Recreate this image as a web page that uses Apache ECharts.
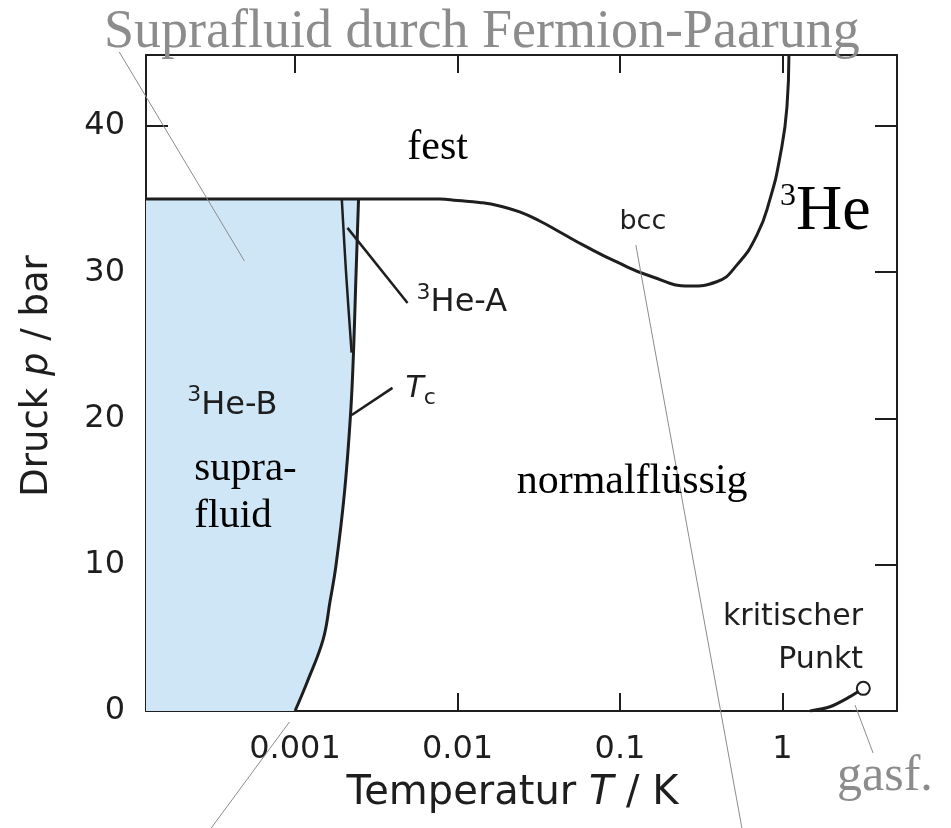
<!DOCTYPE html>
<html>
<head>
<meta charset="utf-8">
<title>3He Phasendiagramm</title>
<script src="https://cdn.jsdelivr.net/npm/echarts@6/dist/echarts.min.js"></script>
<style>
  html, body { margin: 0; padding: 0; background: #fff; }
  #chart { width: 951px; height: 828px; }
</style>
</head>
<body>
<div id="chart"></div>
<script>
// axis ranges: T in K (log), p in bar
const tMin = 1.21e-4, tMax = 5.07;
const pMin = 0, pMax = 44.85;

// melting curve (fest / flüssig)
const meltT = [1.21e-4, 0.001, 0.00776, 0.0100, 0.01367, 0.01817, 0.02413, 0.03206, 0.04256, 0.0607, 0.0955, 0.153, 0.269, 0.394, 0.525, 0.697, 0.838, 0.966, 1.066, 1.096];
const meltP = [35.0, 35.0, 35.0, 34.9, 34.77, 34.53, 34.12, 33.5, 32.75, 31.8, 30.7, 29.74, 29.06, 29.35, 30.5, 32.55, 35.0, 37.9, 41.3, 44.85];

// superfluid transition Tc(p)
const tcT = [0.001, 0.00119, 0.00149, 0.001643, 0.001789, 0.002018, 0.0022, 0.00229, 0.00236, 0.00246];
const tcP = [0, 2, 4.9, 7.5, 10, 15, 20.4, 24.5, 29, 35];

// A-B transition
const abT = [0.00223, 0.00206, 0.00194];
const abP = [24.5, 30, 35];

// liquid-gas line up to the critical point
const critT = [1.477, 1.963, 2.606, 3.146];
const critP = [0, 0.29, 0.98, 1.55];

// black pointer lines for 3He-A and Tc labels
const ptrT = [[0.002103, 0.004927], [0.002235, 0.00398]];
const ptrP = [[33.03, 27.9], [20.24, 22.09]];

// thin grey leader lines (some run past the frame)
const leadT = [[8.28e-5, 4.88e-4], [9.24e-4, 3.05e-4], [0.1252, 0.5628], [2.797, 3.611]];
const leadP = [[45.06, 30.77], [-0.75, -8.0], [31.86, -8.0], [0.41, -2.87]];

// text notes: [T, p, key]
const notes = [
  [0.00754, 38.5, 'fest'],
  [0.965, 34.09, 'he3'],
  [0.1382, 33.44, 'bcc'],
  [0.0056, 27.9, 'heA'],
  [0.004786, 22.02, 'tc'],
  [2.173e-4, 20.89, 'heB'],
  [2.399e-4, 14.91, 'supra'],
  [0.02312, 15.69, 'normal'],
  [3.133, 4.96, 'krit'],
  [2.167, -4.48, 'gasf']
];

const sans = 'DejaVu Sans';
const serif = 'Liberation Serif';
const ink = '#1e1e1e';
const grey = '#8c8c8c';

function pairs(ts, ps) {
  return ts.map((t, i) => [t, ps[i]]);
}

const supStyle = { fontFamily: sans, fontSize: 22, lineHeight: 22, verticalAlign: 'top', color: ink };
const heStyle = { fontFamily: sans, fontSize: 32, lineHeight: 42, color: ink };

const noteLabel = {
  fest: { formatter: 'fest', fontFamily: serif, fontSize: 42, color: '#000', align: 'center' },
  he3: {
    formatter: '{s|3}{m|He}', align: 'left',
    rich: {
      s: { fontFamily: serif, fontSize: 32, lineHeight: 32, verticalAlign: 'top', color: '#000' },
      m: { fontFamily: serif, fontSize: 64, lineHeight: 64, color: '#000' }
    }
  },
  bcc: { formatter: 'bcc', fontFamily: sans, fontSize: 27, color: ink, align: 'center' },
  heA: { formatter: '{s|3}{m|He-A}', align: 'left', rich: { s: supStyle, m: heStyle } },
  heB: { formatter: '{s|3}{m|He-B}', align: 'left', rich: { s: supStyle, m: heStyle } },
  tc: {
    formatter: '{t|T}{c|c}', align: 'left',
    rich: {
      t: { fontFamily: sans, fontSize: 30, lineHeight: 40, fontStyle: 'italic', color: ink },
      c: { fontFamily: sans, fontSize: 22, lineHeight: 22, verticalAlign: 'bottom', color: ink }
    }
  },
  supra: { formatter: 'supra-\nfluid', fontFamily: serif, fontSize: 41, lineHeight: 47, color: '#000', align: 'left' },
  normal: { formatter: 'normalflüssig', fontFamily: serif, fontSize: 42, color: '#000', align: 'left' },
  krit: { formatter: 'kritischer\nPunkt', fontFamily: sans, fontSize: 30, lineHeight: 43, color: ink, align: 'right' },
  gasf: { formatter: 'gasf.', fontFamily: serif, fontSize: 50, color: grey, align: 'left' }
};

const shadeT = [tMin].concat(tcT, [tMin]);
const shadeP = [0].concat(tcP, [35]);

const series = [
  {
    type: 'custom',
    silent: true,
    z: 1,
    data: [0],
    renderItem: function (params, api) {
      const pts = shadeT.map((t, i) => api.coord([t, shadeP[i]]));
      return { type: 'polygon', shape: { points: pts }, style: { fill: '#cfe6f6' } };
    }
  },
  {
    type: 'line', name: 'Schmelzkurve', data: pairs(meltT, meltP),
    smooth: 0.5, showSymbol: false, silent: true, z: 3,
    lineStyle: { color: ink, width: 3 }
  },
  {
    type: 'line', name: 'Tc', data: pairs(tcT, tcP),
    smooth: 0.4, showSymbol: false, silent: true, z: 3,
    lineStyle: { color: ink, width: 3 }
  },
  {
    type: 'line', name: 'A-B', data: pairs(abT, abP),
    smooth: 0.3, showSymbol: false, silent: true, z: 3,
    lineStyle: { color: ink, width: 2.5 }
  },
  {
    type: 'line', name: 'fl-gas', data: pairs(critT, critP),
    smooth: 0.3, showSymbol: false, silent: true, z: 3,
    lineStyle: { color: ink, width: 3 }
  },
  {
    type: 'scatter', name: 'kritischer Punkt', silent: true, z: 4,
    data: [[critT[critT.length - 1], critP[critP.length - 1]]],
    symbol: 'emptyCircle', symbolSize: 13,
    itemStyle: { color: ink, borderColor: ink, borderWidth: 2, opacity: 1 }
  }
];

ptrT.forEach(function (ts, k) {
  series.push({
    type: 'line', data: pairs(ts, ptrP[k]), showSymbol: false, silent: true, z: 3,
    lineStyle: { color: ink, width: 2.5 }
  });
});

// leaders: custom series on a hidden linear log10(T) axis so they can leave the frame
series.push({
  type: 'custom', name: 'Hinweislinien', xAxisIndex: 2, silent: true, z: 5, clip: false,
  data: leadT.map(function (ts, k) {
    return [Math.log10(ts[0]), leadP[k][0], Math.log10(ts[1]), leadP[k][1]];
  }),
  encode: { x: [0, 2], y: [1, 3] },
  renderItem: function (params, api) {
    const a = api.coord([api.value(0), api.value(1)]);
    const b = api.coord([api.value(2), api.value(3)]);
    return {
      type: 'line',
      shape: { x1: a[0], y1: a[1], x2: b[0], y2: b[1] },
      style: { stroke: grey, lineWidth: 1 }
    };
  }
});

series.push({
  type: 'scatter', name: 'Beschriftung', silent: true, clip: false, z: 6,
  symbolSize: 1,
  itemStyle: { color: 'rgba(0,0,0,0)', opacity: 1 },
  label: { show: true, position: 'inside', verticalAlign: 'middle', opacity: 1 },
  data: notes.map(function (n) {
    return { value: [n[0], n[1]], label: noteLabel[n[2]] };
  })
});

const tickX = {
  show: true, inside: true, length: 18,
  lineStyle: { color: ink, width: 2 }
};
const tickY = {
  show: true, inside: true, length: 22,
  lineStyle: { color: ink, width: 2 }
};
const frameLine = { show: true, onZero: false, lineStyle: { color: ink, width: 2 } };

const option = {
  animation: false,
  backgroundColor: '#fff',
  title: {
    text: 'Suprafluid durch Fermion-Paarung',
    left: 104, top: 0, padding: [6, 0, 0, 0],
    textStyle: { fontFamily: serif, fontSize: 54, fontWeight: 'normal', color: grey }
  },
  grid: { left: 146, right: 54, top: 55, bottom: 117, containLabel: false, outerBoundsMode: 'none' },
  xAxis: [
    {
      type: 'log', logBase: 10, min: tMin, max: tMax,
      axisLine: frameLine, axisTick: tickX, splitLine: { show: false },
      axisLabel: {
        show: true, margin: 23, showMinLabel: false, showMaxLabel: false,
        fontFamily: sans, fontSize: 32, color: ink,
        formatter: function (v) { return String(+v.toPrecision(3)); }
      },
      name: 'Temperatur {i|T} / K',
      nameLocation: 'middle', nameGap: 63,
      nameTextStyle: {
        fontFamily: sans, fontSize: 40, color: ink, padding: [0, 18, 0, 0],
        rich: { i: { fontFamily: sans, fontSize: 40, fontStyle: 'italic', color: ink } }
      }
    },
    {
      type: 'log', logBase: 10, min: tMin, max: tMax, position: 'top',
      axisLine: frameLine, axisTick: tickX, splitLine: { show: false },
      axisLabel: { show: false }
    },
    {
      type: 'value', min: Math.log10(tMin), max: Math.log10(tMax), show: false
    }
  ],
  yAxis: [
    {
      type: 'value', min: pMin, max: pMax, interval: 10,
      axisLine: frameLine, axisTick: tickY, splitLine: { show: false },
      axisLabel: {
        show: true, margin: 21, showMaxLabel: false,
        fontFamily: sans, fontSize: 32, color: ink
      },
      name: 'Druck {i|p} / bar',
      nameLocation: 'middle', nameGap: 90,
      nameTextStyle: {
        fontFamily: sans, fontSize: 37, color: ink, padding: [0, 0, 0, 14],
        rich: { i: { fontFamily: sans, fontSize: 37, fontStyle: 'italic', color: ink } }
      }
    },
    {
      type: 'value', min: pMin, max: pMax, interval: 10, position: 'right',
      axisLine: frameLine, axisTick: tickY, splitLine: { show: false },
      axisLabel: { show: false }
    }
  ],
  series: series
};

const chart = echarts.init(document.getElementById('chart'));
chart.setOption(option);
</script>
</body>
</html>
